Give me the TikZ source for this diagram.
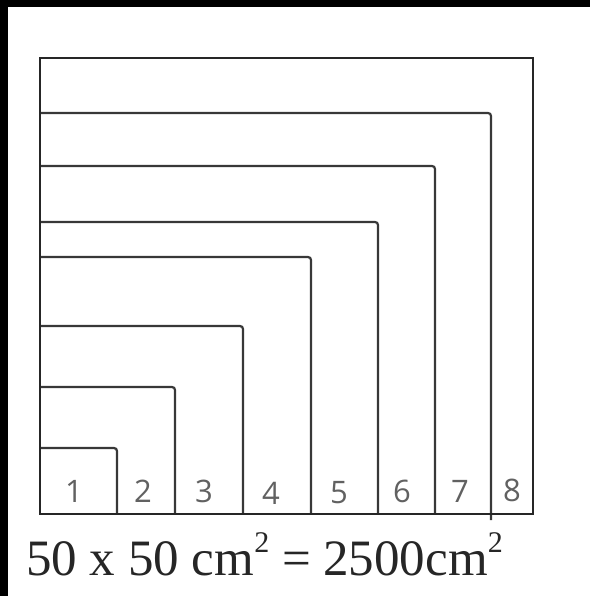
\documentclass[tikz,border=0pt]{standalone}
\usepackage{fontspec}
\setmainfont{Liberation Serif}
\newfontfamily\handfont{Open Sans}
\newcommand{\supII}{\raisebox{23pt}{\fontsize{30}{30}\selectfont 2}}
\begin{document}
\begin{tikzpicture}[x=1pt,y=-1pt,
  frame/.style={draw=black!85, line width=2.8pt},
  lshape/.style={draw=black!78, line width=2.2pt, rounded corners=3pt},
  numlabel/.style={text=black!62, font=\handfont\fontsize{31}{31}\selectfont, inner sep=0pt, anchor=base},
  caption/.style={font=\fontsize{51}{51}\selectfont, text=black!85, inner sep=0pt, anchor=base west}]
\fill[black] (0,0) rectangle (590,596);
\fill[white] (8,7) rectangle (590,596);
\useasboundingbox (0,0) rectangle (590,596);
% nested L-shapes
\draw[lshape] (40,448) -- (117,448) -- (117,514);
\draw[lshape] (40,387) -- (175,387) -- (175,514);
\draw[lshape] (40,326) -- (243,326) -- (243,514);
\draw[lshape] (40,257) -- (311,257) -- (311,514);
\draw[lshape] (40,222) -- (378,222) -- (378,514);
\draw[lshape] (40,166) -- (435,166) -- (435,514);
\draw[lshape] (40,113) -- (491,113) -- (491,520);
% outer frame
\draw[frame] (40,58) rectangle (533,514);
% cell numbers
\node[numlabel] (n1) at (74,502) {1};
\node[numlabel] (n2) at (143,502) {2};
\node[numlabel] (n3) at (204,502) {3};
\node[numlabel] (n4) at (271,504) {4};
\node[numlabel] (n5) at (339,503) {5};
\node[numlabel] (n6) at (402,502) {6};
\node[numlabel] (n7) at (460,502) {7};
\node[numlabel] (n8) at (512,501) {8};
% caption
\node[caption] (cap) at (26,575) {50 x 50 cm\supII{} = 2500cm\supII};
\end{tikzpicture}
\end{document}
